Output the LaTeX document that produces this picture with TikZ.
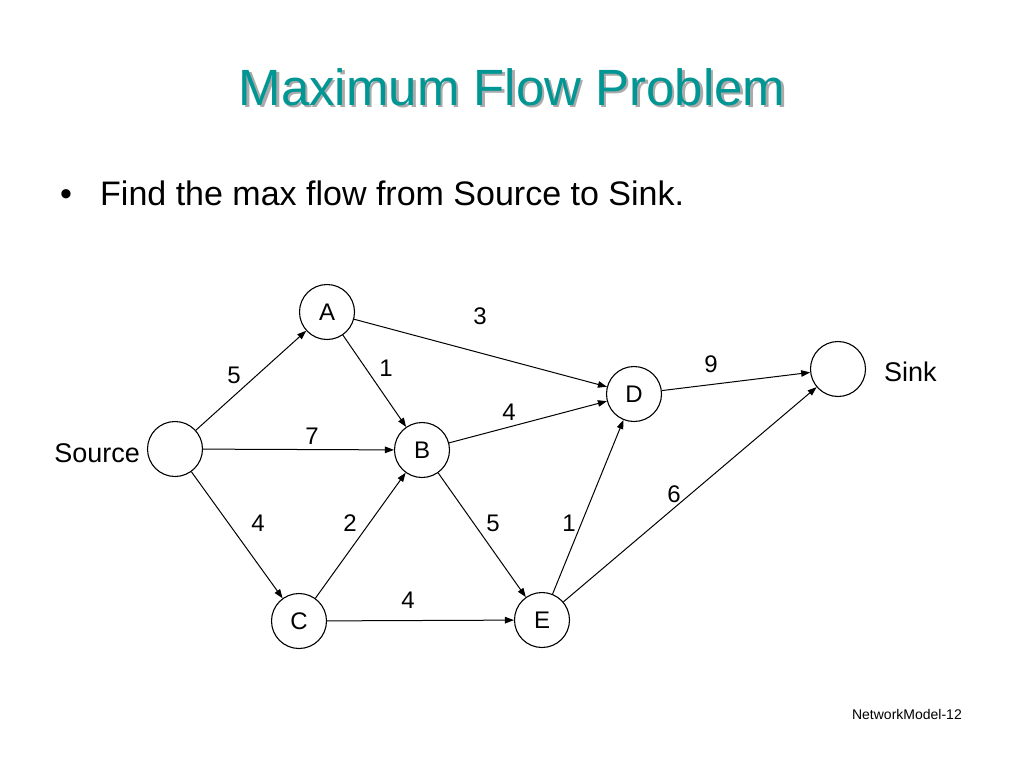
\documentclass[tikz,border=0pt]{standalone}
\usepackage{fontspec}
\setmainfont{Liberation Sans}
\usetikzlibrary{arrows.meta}
\definecolor{titleteal}{RGB}{0,150,148}
\definecolor{shadowgray}{RGB}{170,170,170}
\newcommand{\shadowtitle}[1]{\rlap{\hspace{2.5pt}\raisebox{-2.5pt}{\color{shadowgray}#1}}{\color{titleteal}#1}}
\begin{document}
\begin{tikzpicture}[x=1pt,y=-1pt,
  vertex/.style={circle,draw,line width=1.1pt,minimum size=55pt,inner sep=0pt,font=\fontsize{24}{24}\selectfont},
  edge/.style={line width=1pt,-{Triangle[length=9pt,width=6.5pt]}},
  wt/.style={font=\fontsize{24}{24}\selectfont,inner sep=0pt},
  side/.style={font=\fontsize{27}{27}\selectfont,inner sep=0pt}]
\useasboundingbox (0,0) rectangle (1024,768);
\fill[white] (0,0) rectangle (1024,768);
% title
\node[anchor=base,font=\fontsize{51}{51}\selectfont,inner sep=0pt] (title) at (512,105) {\shadowtitle{Maximum Flow Problem}};
% bullet
\node[anchor=base west,font=\fontsize{34}{34}\selectfont,inner sep=0pt] (bullet) at (60,205) {•};
\node[anchor=base west,font=\fontsize{34}{34}\selectfont,inner sep=0pt] (btext) at (100,205) {Find the max flow from Source to Sink.};
% nodes
\node[vertex] (S) at (175,449) {};
\node[vertex] (A) at (327,312) {A};
\node[vertex] (B) at (422,450) {B};
\node[vertex] (C) at (299,621) {C};
\node[vertex] (D) at (634,394) {D};
\node[vertex] (E) at (542,620) {E};
\node[vertex] (T) at (838,369) {};
\node[side,anchor=base east] (srclbl) at (140,462) {Source};
\node[side,anchor=base west] (snklbl) at (884,381) {Sink};
% edges
\draw[edge] (S) -- (A);
\draw[edge] (S) -- (B);
\draw[edge] (S) -- (C);
\draw[edge] (A) -- (B);
\draw[edge] (A) -- (D);
\draw[edge] (B) -- (D);
\draw[edge] (B) -- (E);
\draw[edge] (C) -- (B);
\draw[edge] (C) -- (E);
\draw[edge] (E) -- (D);
\draw[edge] (E) -- (T);
\draw[edge] (D) -- (T);
% weights
\node[wt] (w3) at (480,316) {3};
\node[wt] (w5a) at (234,375) {5};
\node[wt] (w1a) at (386,368) {1};
\node[wt] (w9) at (711,364) {9};
\node[wt] (w4bd) at (509,412) {4};
\node[wt] (w7) at (312,436) {7};
\node[wt] (w6) at (674,494) {6};
\node[wt] (w4sc) at (258,523) {4};
\node[wt] (w2) at (350,523) {2};
\node[wt] (w5be) at (493,523) {5};
\node[wt] (w1ed) at (569,523) {1};
\node[wt] (w4ce) at (408,600) {4};
% footer
\node[anchor=base east,font=\fontsize{14}{14}\selectfont,inner sep=0pt] (foot) at (962,719) {NetworkModel-12};
\end{tikzpicture}
\end{document}
